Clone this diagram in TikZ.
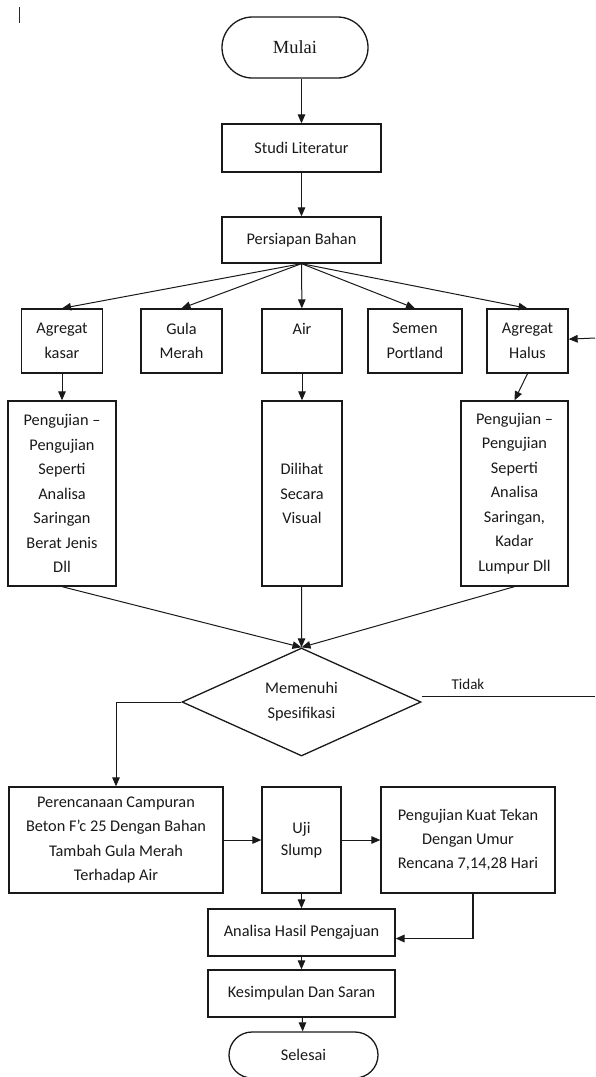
\documentclass[tikz,border=0pt]{standalone}
\usepackage{fontspec}
\setmainfont{Carlito}
\newfontfamily\mulaifont{Liberation Serif}
\usetikzlibrary{arrows.meta,shapes.geometric,shapes.misc}
\begin{document}
\begin{tikzpicture}
[x=1pt,y=-1pt,%
  boxDecorate/.style={draw=black!90,line width=1.3pt,inner sep=0pt,align=center,
    text=black!90,font=\fontsize{16.3}{24.5}\selectfont},%
  termDecorate/.style={boxDecorate,rounded rectangle},%
  arrowDecorate/.style={-{Triangle[length=9pt,width=7.5pt]},line width=1pt,draw=black!90},%
  lineDecorate/.style={-,line width=1pt,draw=black!90}]
\useasboundingbox (0,0) rectangle (595,1077);
\draw[line width=1.2pt,black!85] (19.5,7) -- (19.5,23);
%% nodes or vertices
\node (mulai) at (295,47.5) [termDecorate,minimum width=146pt,minimum height=61pt,
  font=\mulaifont\fontsize{18.5}{20}\selectfont] {Mulai};
\node (studi) at (301.5,148) [boxDecorate,minimum width=159pt,minimum height=48pt] {Studi Literatur};
\node (siap) at (301.5,240) [boxDecorate,minimum width=159pt,minimum height=46pt] {Persiapan Bahan};
\foreach \nodename/\x/\w/\txt in {
  kasar/62/81/{Agregat\\kasar}, gula/181.5/81/{Gula\\Merah}, air/302/80/{Air\\~},
  semen/415/94/{Semen\\Portland}, halus/527.5/81/{Agregat\\Halus}}
{
  \node (\nodename) at (\x,341) [boxDecorate,minimum width=\w pt,minimum height=64pt] {\txt};
}
\node (ujikasar) at (62,493.5) [boxDecorate,minimum width=108pt,minimum height=185pt]
  {Pengujian --\\Pengujian\\Seperti\\Analisa\\Saringan\\Berat Jenis\\Dll};
\node (visual) at (302,493.5) [boxDecorate,minimum width=80pt,minimum height=185pt]
  {Dilihat\\Secara\\Visual};
\node (ujihalus) at (514.5,493.5) [boxDecorate,minimum width=107pt,minimum height=185pt]
  {Pengujian --\\Pengujian\\Seperti\\Analisa\\Saringan,\\Kadar\\Lumpur Dll};
\node (spek) at (301.5,702) [boxDecorate,diamond,aspect=2.2,minimum width=239pt,minimum height=108pt,
  font=\fontsize{16.3}{25}\selectfont] {Memenuhi\\Spesifikasi};
\node (rencana) at (116,840) [boxDecorate,minimum width=214pt,minimum height=106pt]
  {Perencanaan Campuran\\Beton F’c 25 Dengan Bahan\\Tambah Gula Merah\\Terhadap Air};
\node (slump) at (301.5,840) [boxDecorate,minimum width=79pt,minimum height=106pt,
  font=\fontsize{16.3}{22}\selectfont] {Uji\\Slump};
\node (kuat) at (468,840) [boxDecorate,minimum width=174pt,minimum height=106pt,
  font=\fontsize{16.3}{24}\selectfont] {Pengujian Kuat Tekan\\Dengan Umur\\Rencana 7,14,28 Hari};
\node (analisa) at (301.5,932.5) [boxDecorate,minimum width=187pt,minimum height=47pt] {Analisa Hasil Pengajuan};
\node (simpul) at (301.5,993.5) [boxDecorate,minimum width=187pt,minimum height=47pt] {Kesimpulan Dan Saran};
\node (selesai) at (303.5,1055) [termDecorate,minimum width=149pt,minimum height=46pt] {Selesai};
\coordinate (tidakend) at (595,696);
\coordinate (balik) at (595,338);
\node (tidak) at (468,684) [text=black!90,font=\fontsize{15}{17}\selectfont] {Tidak};
%% edges or lines
\draw[arrowDecorate] (mulai.south -| studi.north) -- (studi.north);
\path
\foreach \startnode/\endnode in {studi/siap, siap.south/kasar.north, siap.south/gula.north,
  siap/air, siap.south/semen.north, siap.south/halus.north,
  kasar/ujikasar, air/visual, halus.south/ujihalus.north, ujikasar.south/spek.north,
  visual/spek.north, ujihalus.south/spek.north,
  rencana/slump, slump/kuat, slump/analisa, analisa/simpul, simpul/selesai, balik/halus}
{
  (\startnode) edge[arrowDecorate] (\endnode)
};
\draw[arrowDecorate] (spek.west) -| (rencana.north);
\draw[lineDecorate] (spek.east |- tidakend) -- (tidakend);
\draw[arrowDecorate,line width=1.8pt] ([xshift=5pt]kuat.south) |- ([yshift=-6pt]analisa.east);
\end{tikzpicture}
\end{document}
